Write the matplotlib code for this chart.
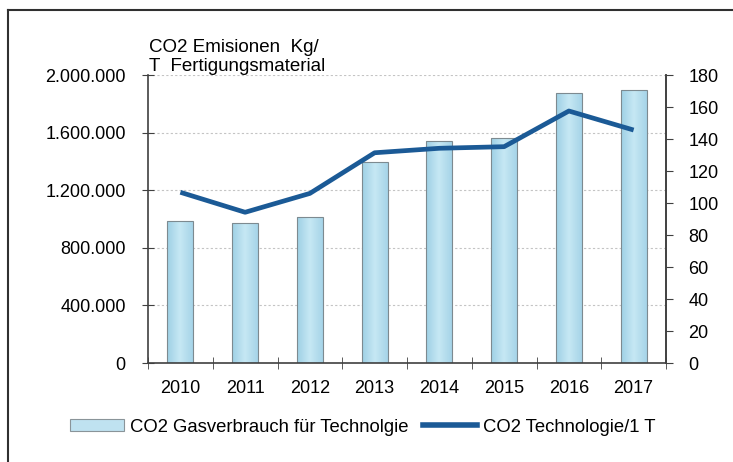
import numpy as np
import matplotlib
matplotlib.use("Agg")
import matplotlib.pyplot as plt
from matplotlib.lines import Line2D
from matplotlib.patches import Patch
from matplotlib.colors import LinearSegmentedColormap

plt.rcParams["font.family"] = ["Liberation Sans", "DejaVu Sans"]
plt.rcParams["font.size"] = 13

# Data
years = ["2010", "2011", "2012", "2013", "2014", "2015", "2016", "2017"]
gas_usage = [988000, 970000, 1016000, 1398000, 1542000, 1560000, 1877000, 1896000]
co2_per_t = [106.7, 94.2, 106.0, 131.4, 134.2, 135.2, 157.5, 145.6]

left_ticks = [0, 400000, 800000, 1200000, 1600000, 2000000]
left_labels = ["0", "400.000", "800.000", "1.200.000", "1.600.000", "2.000.000"]
right_ticks = list(range(0, 181, 20))

bar_label = "CO2 Gasverbrauch für Technolgie"
line_label = "CO2 Technologie/1 T"
title = "CO2 Emisionen  Kg/\nT  Fertigungsmaterial"

W, H = 733, 462
fig = plt.figure(figsize=(W / 100, H / 100), dpi=100)
ax = fig.add_axes([148 / W, (H - 363) / H, (666 - 148) / W, (363 - 75) / H])

x = np.arange(len(years))
bars = ax.bar(x, gas_usage, width=0.4, color="#a9d6ea", edgecolor="#7d8a90",
              linewidth=0.8, zorder=2)

# soft horizontal gradient inside each bar, like the original
grad_cmap = LinearSegmentedColormap.from_list("bar", ["#9fd0e5", "#c6e8f4", "#a6d4e8"])
grad = np.linspace(0, 1, 64).reshape(1, -1)
for b in bars:
    x0, y0 = b.get_x(), b.get_y()
    im = ax.imshow(grad, cmap=grad_cmap, aspect="auto", zorder=2.1,
                   extent=(x0, x0 + b.get_width(), y0, y0 + b.get_height()))
    im.set_clip_path(b)
    b.set_facecolor("none")
    b.set_zorder(2.2)

ax.set_xlim(-0.5, len(years) - 0.5)
ax.set_ylim(0, 2000000)
ax.set_yticks(left_ticks)
ax.set_yticklabels(left_labels)
for v in left_ticks[1:]:
    ax.axhline(v, color="#c4c4c4", lw=0.8, ls=(0, (2, 2)), zorder=1)

ax.set_xticks(x)
ax.set_xticklabels(years)
ax.set_xticks(np.arange(len(years) + 1) - 0.5, minor=True)
ax.tick_params(axis="x", which="major", length=0, pad=12)
ax.tick_params(axis="x", which="minor", direction="inout", length=8,
               color="#404040")
ax.tick_params(axis="y", direction="inout", length=8, pad=12, color="#404040")
for side in ["left", "bottom", "right"]:
    ax.spines[side].set_color("#404040")
    ax.spines[side].set_linewidth(1.2)
ax.spines["top"].set_visible(False)

ax2 = ax.twinx()
ax2.plot(x, co2_per_t, color="#1b5a96", lw=3.4, solid_capstyle="butt", zorder=3)
ax2.set_ylim(0, 180)
ax2.set_yticks(right_ticks)
ax2.tick_params(axis="y", direction="out", length=5, pad=11, color="#404040")
ax2.spines["right"].set_color("#404040")
ax2.spines["right"].set_linewidth(1.2)
for side in ["left", "bottom", "top"]:
    ax2.spines[side].set_visible(False)

fig.text(149 / W, 1 - 57 / H, title, ha="left", va="center",
         fontsize=13.5, linespacing=1.2)

handles = [
    Patch(facecolor="#bfe2f0", edgecolor="#8a9499", linewidth=0.8, label=bar_label),
    Line2D([0], [0], color="#1b5a96", lw=4, label=line_label),
]
fig.legend(handles=handles, loc="center left", bbox_to_anchor=(70 / W, 1 - 427 / H),
           ncol=2, frameon=False, handlelength=2.9, handleheight=0.55,
           handletextpad=0.35, columnspacing=0.8, borderpad=0, borderaxespad=0,
           fontsize=13.3)

# outer frame (left and top edges only)
fig.add_artist(Line2D([8 / W, 8 / W], [0, 1 - 10 / H], color="#303030", lw=1.5))
fig.add_artist(Line2D([8 / W, 1], [1 - 10 / H, 1 - 10 / H], color="#303030", lw=1.5))

fig.savefig("out.png", dpi=100)
